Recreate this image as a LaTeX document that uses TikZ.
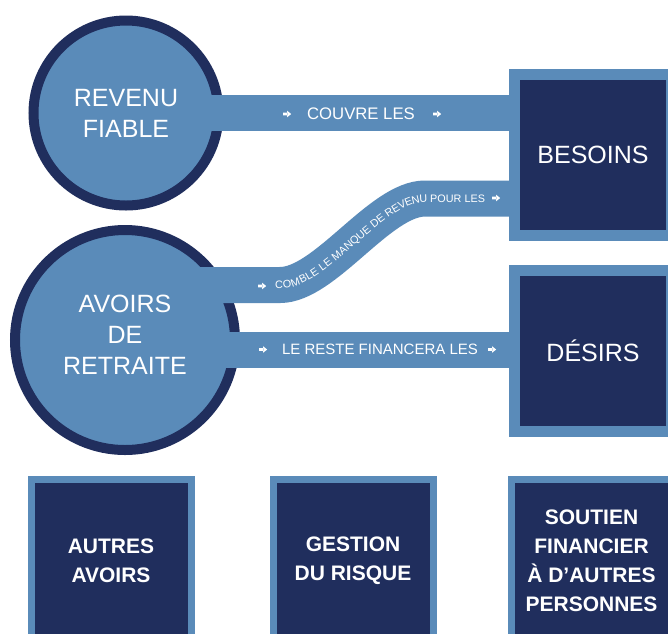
\documentclass[tikz,border=0pt]{standalone}
\usepackage{fontspec}
\setmainfont{Liberation Sans}
\usetikzlibrary{decorations.text}
\definecolor{navy}{RGB}{32,46,93}
\definecolor{steel}{RGB}{90,139,185}
\begin{document}
\begin{tikzpicture}[x=1pt,y=-1pt,
  ring/.style={circle, fill=steel, draw=navy, line width=10pt, inner sep=0pt,
    text=white, align=center, font=\fontsize{25}{31}\selectfont},
  ringtext/.style={text=white, align=center, inner sep=0pt, font=\fontsize{25}{31}\selectfont},
  bigbox/.style={rectangle, fill=navy, draw=steel, line width=11pt,
    minimum width=157pt, minimum height=161pt, inner sep=0pt, text=white,
    font=\fontsize{25}{30}\selectfont},
  smallbox/.style={rectangle, fill=navy, draw=steel, line width=7pt,
    minimum width=160pt, minimum height=163pt, inner sep=0pt, text=white,
    align=center, font=\bfseries\fontsize{21}{29}\selectfont},
  band/.style={draw=steel, line width=36pt},
  bandtext/.style={text=white, inner sep=0pt, font=\fontsize{15}{18}\selectfont},
  arr/.pic={\fill[white] (-4,-1.3) rectangle (0.5,1.3) (0,-3.3) -- (4.2,0) -- (0,3.3) -- cycle;}
]
\clip (0,0) rectangle (668,633);
\fill[white] (0,0) rectangle (668,633);

% circles
\node[ring, minimum size=185pt] (rf) at (126,113) {REVENU\\FIABLE};
\node[ring, minimum size=220pt] (ar) at (125,340) {};
\node[ringtext] (art) at (125,335) {AVOIRS\\DE\\RETRAITE};

% boxes
\node[bigbox] (bes) at (593,155) {BESOINS};
\node[bigbox] (des) at (593,351) {DÉSIRS};

% bands
\coordinate (b1s) at ([xshift=-25pt]rf.east);
\draw[band] (b1s) -- (b1s -| bes.west);

\coordinate (b2s) at (190,285);
\coordinate (b2a) at (280,285);
\coordinate (b2b) at (425,198.5);
\draw[band] (b2s) -- (b2a) .. controls (325,285) and (380,198.5) .. (b2b) -- (b2b -| bes.west);

\coordinate (b3s) at (200,349.5);
\draw[band] (b3s) -- (b3s -| des.west);

% band labels
\node[bandtext, font=\fontsize{16.7}{18}\selectfont] (t1) at (361,114) {COUVRE LES};
\pic at (287,114) {arr};
\pic at (437,114) {arr};

\node[bandtext] (t3) at (380,349.5) {LE RESTE FINANCERA LES};
\pic at (263,349.5) {arr};
\pic at (492,349.5) {arr};

\path[decorate, decoration={text along path, text align=fit to path, raise=-3.8pt,
  text color=white,
  text={|\fontsize{10.8}{12}\selectfont|COMBLE LE MANQUE DE REVENU POUR LES}}]
  (275,285) -- (b2a) .. controls (325,285) and (380,198.5) .. (b2b) -- (485,198.5);
\pic at (262,286) {arr};
\pic at (496,198) {arr};

% bottom boxes
\node[smallbox] (aa) at (111,561) {AUTRES\\AVOIRS};
\node[smallbox] (gr) at (353,561) {GESTION\\DU RISQUE};
\node[smallbox] (sf) at (591.5,561) {SOUTIEN\\FINANCIER\\À D’AUTRES\\PERSONNES};
\end{tikzpicture}
\end{document}
